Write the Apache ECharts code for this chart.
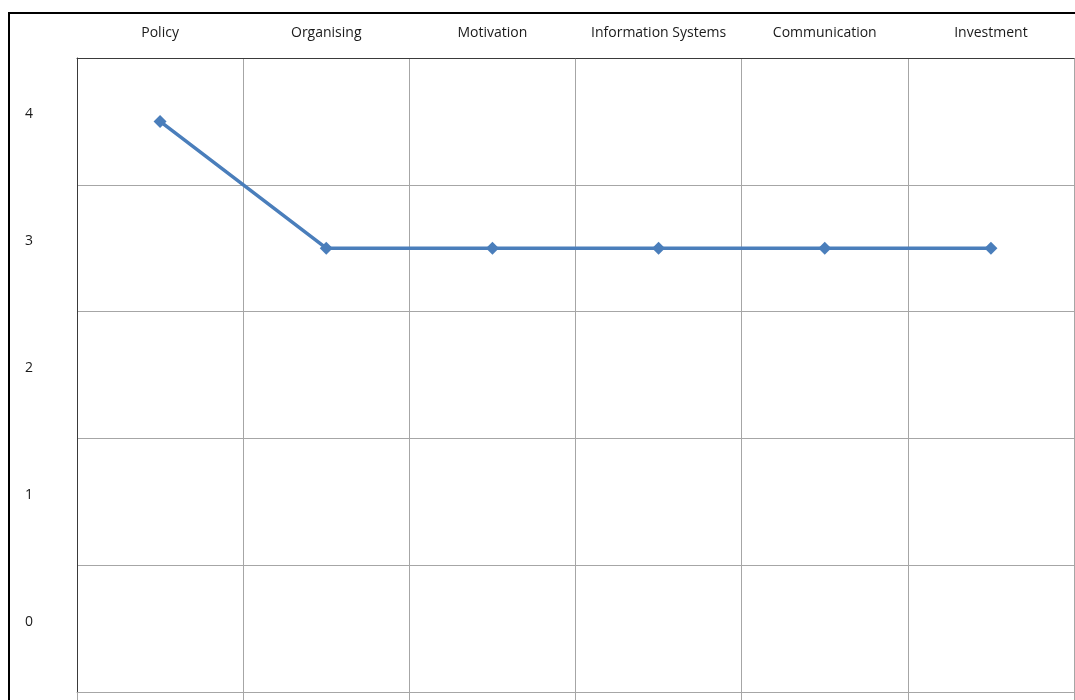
<!DOCTYPE html>
<html>
<head>
<meta charset="utf-8">
<script src="https://cdn.jsdelivr.net/npm/echarts@6/dist/echarts.min.js"></script>
<style>
  html, body { margin: 0; padding: 0; background: #fff; }
  #chart { width: 1075px; height: 700px; }
</style>
</head>
<body>
<div id="chart"></div>
<script>
const categories = ['Policy', 'Organising', 'Motivation', 'Information Systems', 'Communication', 'Investment'];
const scores = [4, 3, 3, 3, 3, 3];
const levelLabels = ['0', '1', '2', '3', '4'];

const chart = echarts.init(document.getElementById('chart'));
const gridColor = '#a6a6a6';
const font = '"Open Sans", sans-serif';

chart.setOption({
  animation: false,
  graphic: [{
    type: 'rect',
    shape: { x: 9, y: 13, width: 1100, height: 720 },
    style: { fill: 'none', stroke: '#000', lineWidth: 2 },
    silent: true
  }],
  grid: { left: 77, top: 58, width: 997, height: 634 },
  xAxis: [
    {
      type: 'category',
      position: 'top',
      data: categories,
      boundaryGap: true,
      axisLine: { onZero: false, lineStyle: { color: '#3a3a3a', width: 1 } },
      axisTick: { show: false },
      axisLabel: { color: '#1a1a1a', fontSize: 14, fontFamily: font, margin: 18, interval: 0 },
      splitLine: { show: true, interval: 0, lineStyle: { color: gridColor, width: 1 } }
    },
    {
      type: 'category',
      position: 'bottom',
      data: categories,
      boundaryGap: true,
      axisLine: { onZero: false, lineStyle: { color: gridColor, width: 1 } },
      axisTick: { show: true, interval: 0, length: 8, lineStyle: { color: gridColor } },
      axisLabel: { show: false }
    }
  ],
  yAxis: [
    {
      type: 'category',
      data: levelLabels,
      boundaryGap: true,
      axisLine: { onZero: false, lineStyle: { color: '#3a3a3a', width: 1 } },
      axisTick: { show: false },
      axisLabel: { color: '#1a1a1a', fontSize: 14, fontFamily: font, margin: 44, verticalAlign: 'bottom' },
      splitLine: { show: true, interval: 0, lineStyle: { color: gridColor, width: 1 } }
    },
    {
      type: 'value',
      min: -0.5,
      max: 4.5,
      show: false,
      splitLine: { show: false }
    }
  ],
  series: [{
    type: 'line',
    xAxisIndex: 0,
    yAxisIndex: 1,
    data: scores,
    symbol: 'diamond',
    symbolSize: 13,
    lineStyle: { color: '#4a7ebb', width: 3.5 },
    itemStyle: { color: '#4a7ebb' }
  }]
});
</script>
</body>
</html>
